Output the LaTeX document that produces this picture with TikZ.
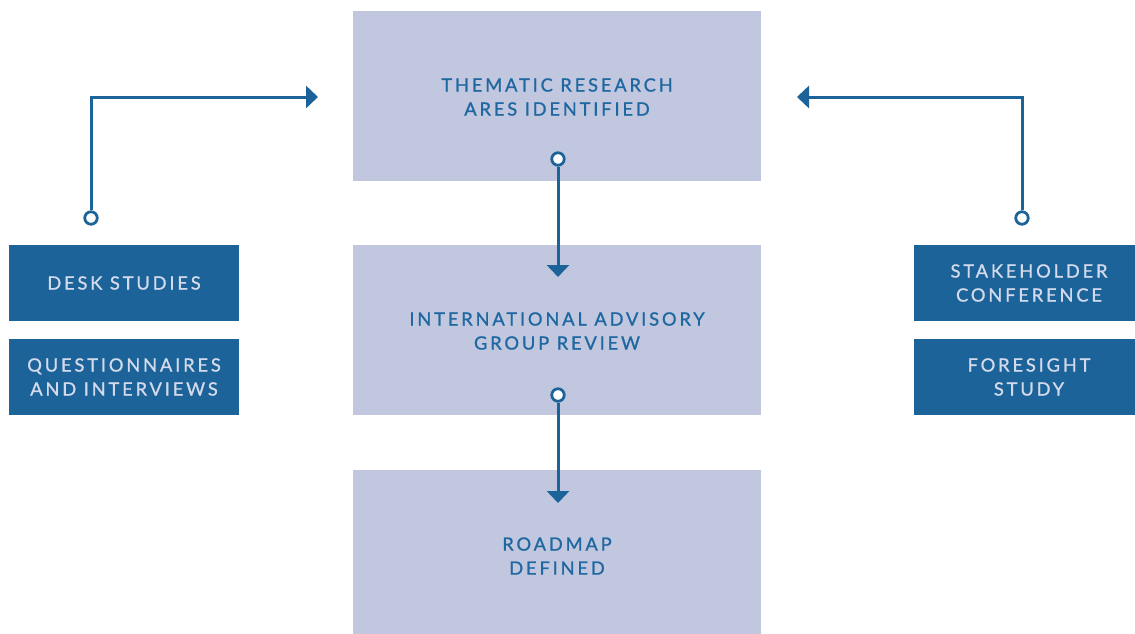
\documentclass[tikz,border=0pt]{standalone}
\usepackage{fontspec}
\setmainfont{Lato}[LetterSpace=15.5, FakeBold=1]
\usetikzlibrary{arrows.meta}
\definecolor{lightbox}{HTML}{C0C7DF}
\definecolor{darkbox}{HTML}{1C6399}
\definecolor{darktext}{HTML}{1F67A0}
\definecolor{lighttext}{HTML}{D3DAEB}
\tikzset{
  lbox/.style={fill=lightbox, text=darktext, align=center, font=\fontsize{18.3}{24}\selectfont, inner sep=0pt},
  dbox/.style={fill=darkbox, text=lighttext, align=center, font=\fontsize{18.3}{24}\selectfont, inner sep=0pt, minimum width=230pt, minimum height=76pt},
  conn/.style={draw=darkbox, line width=3pt, -{Triangle[width=22pt,length=12pt]}},
  dot/.style={circle, draw=darkbox, line width=2.8pt, fill=white, minimum size=12.5pt, inner sep=0pt},
}
\begin{document}
\begin{tikzpicture}[x=1pt,y=-1pt]
\useasboundingbox (0,0) rectangle (1135,634);
\clip (0,0) rectangle (1135,634);
% light boxes
\fill[lightbox] (353,11) rectangle (761,181);
\fill[lightbox] (353,245) rectangle (761,415);
\fill[lightbox] (353,470) rectangle (761,634);
\node[lbox] (thematic) at (557,97) {THEMATIC RESEARCH\\ARES IDENTIFIED};
\node[lbox] (iag) at (557,331) {INTERNATIONAL ADVISORY\\GROUP REVIEW};
\node[lbox] (roadmap) at (557,556) {ROADMAP\\DEFINED};
% dark boxes
\node[dbox] (desk) at (124,283) {DESK STUDIES};
\node[dbox] (quest) at (124,377) {QUESTIONNAIRES\\AND INTERVIEWS};
\node[dbox] (stake) at (1029,283) {STAKEHOLDER\\CONFERENCE};
\node[dbox] (fore) at (1029,377) {FORESIGHT\\STUDY};
% connector ends
\coordinate (ltip) at (318,97);
\coordinate (rtip) at (797,97);
\coordinate (mtip1) at (558,277);
\coordinate (mtip2) at (558,503);
% start dots
\node[dot] (ldot) at (91,218) {};
\node[dot] (rdot) at (1022,218) {};
\node[dot] (mdot1) at (558,159) {};
\node[dot] (mdot2) at (558,395) {};
% connectors
\draw[conn] (ldot) |- (ltip);
\draw[conn] (rdot) |- (rtip);
\draw[conn] (mdot1) -- (mtip1);
\draw[conn] (mdot2) -- (mtip2);
\end{tikzpicture}
\end{document}
